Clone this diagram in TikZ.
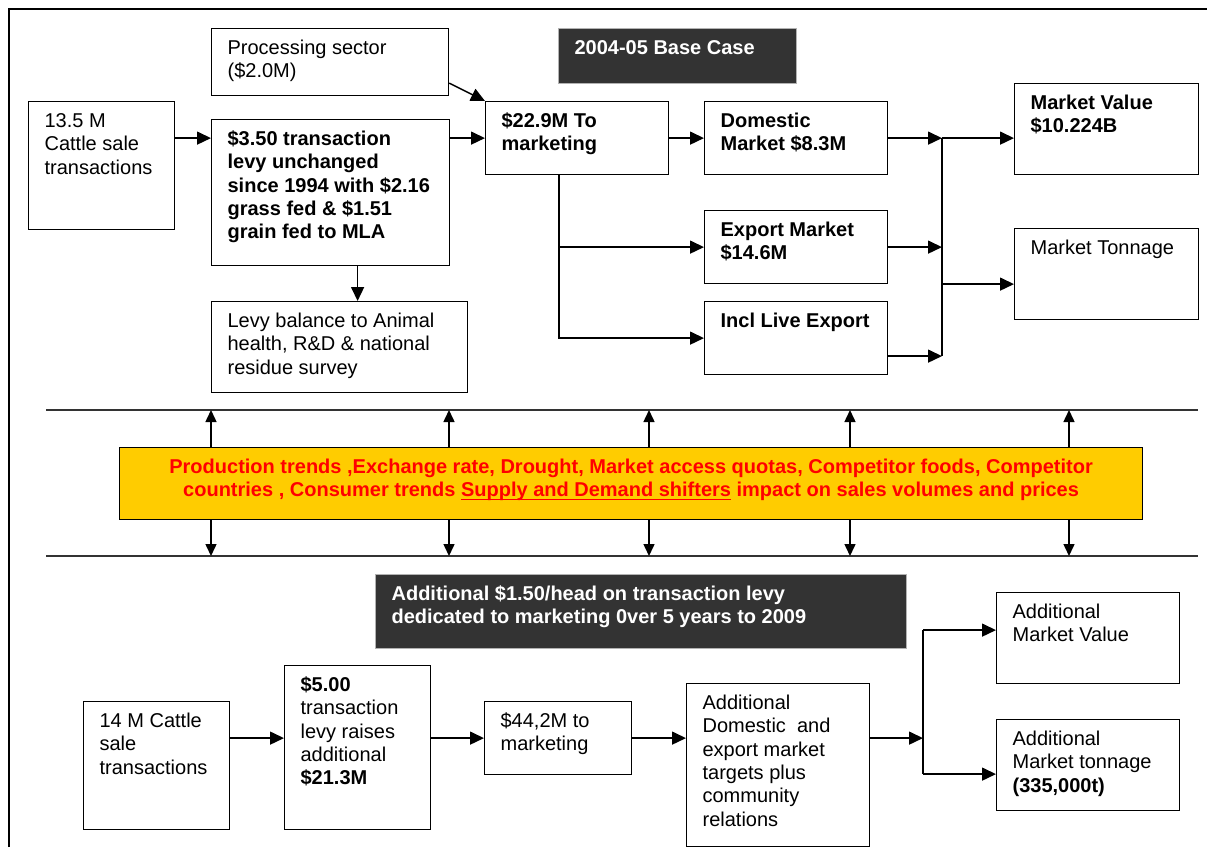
\documentclass[tikz,border=0pt]{standalone}
\usepackage{fontspec}
\setmainfont{Liberation Sans}
\usetikzlibrary{arrows.meta}
\definecolor{darkbg}{HTML}{333333}
\definecolor{band}{HTML}{FFCC00}
\definecolor{alert}{HTML}{FF0000}
\newcommand{\cell}[4][\raggedright]{\parbox[c][#3pt][t]{\dimexpr#2pt-32pt\relax}{\fontsize{20}{23.3}\selectfont#1\rule{0pt}{26pt}#4}}
\newcommand{\redline}[1]{\leavevmode\setbox0\hbox{#1}\rlap{\rule[-3.5pt]{\wd0}{1.6pt}}\box0\relax}

\begin{document}
\begin{tikzpicture}[x=1pt,y=-1pt,
  box/.style={draw,line width=1.2pt,anchor=north west,inner xsep=16pt,inner ysep=0pt},
  dark/.style={box,fill=darkbg,draw=gray!60,text=white,font=\bfseries},
  flow/.style={line width=1.5pt,-{Triangle[length=14pt,width=13pt]}},
  updown/.style={line width=1.5pt,-{Triangle[length=12pt,width=11pt]}}]
\useasboundingbox (0,0) rectangle (1207,847);
\draw[line width=1.6pt] (9,847) -- (9,9) -- (1207,9);

% 2004-05 base case
\node[box] (proc) at (211,28) {\cell{237}{67}{Processing sector\\(\$2.0M)}};
\node[dark] (base) at (558,28) {\cell{238}{55}{2004-05 Base Case}};
\node[box] (cattle) at (28,101) {\cell{146}{128}{13.5 M\\Cattle sale\\transactions}};
\node[box,font=\bfseries] (levy) at (211,119) {\cell{238}{146}{\$3.50 transaction\\levy unchanged\\since 1994 with \$2.16\\grass fed \& \$1.51\\grain fed to MLA}};
\node[box] (balance) at (211,301) {\cell{256}{91}{Levy balance to Animal\\health, R\&D \& national\\residue survey}};
\node[box,font=\bfseries] (tomkt) at (485,101) {\cell{183}{73}{\$22.9M To\\marketing}};
\node[box,font=\bfseries] (dom) at (704,101) {\cell{183}{73}{Domestic\\Market \$8.3M}};
\node[box,font=\bfseries] (exp) at (704,210) {\cell{183}{73}{Export Market\\\$14.6M}};
\node[box,font=\bfseries] (live) at (704,301) {\cell{183}{73}{Incl Live Export}};
\node[box,font=\bfseries] (value) at (1014,83) {\cell{184}{91}{Market Value\\\$10.224B}};
\node[box] (tonnage) at (1014,228) {\cell{184}{91}{Market Tonnage}};

\coordinate (jn) at (942,0);
\draw[flow] (cattle.east |- tomkt.west) -- (levy.west |- tomkt.west);
\draw[flow] (levy.east |- tomkt.west) -- (tomkt.west);
\draw[flow] (proc.-10) -- (tomkt.north west);
\coordinate (ldown) at ([xshift=27pt]levy.south);
\draw[flow] (ldown) -- (ldown |- balance.north);
\draw[flow] (tomkt.east) -- (dom.west);
\coordinate (split) at ([xshift=-18pt]tomkt.south);
\draw[flow] (split) |- (exp.west);
\draw[flow] (split) |- (live.west);
\draw[flow] (dom.east) -- (dom.east -| jn);
\draw[flow] (exp.east) -- (exp.east -| jn);
\coordinate (lout) at ([yshift=-18pt]live.east);
\draw[flow] (lout) -- (lout -| jn);
\draw[line width=1.5pt] (dom.east -| jn) -- (lout -| jn);
\draw[flow] (dom.east -| jn) -- (dom.east -| value.west);
\coordinate (tin) at ([yshift=-10pt]tonnage.west);
\draw[flow] (tin -| jn) -- (tin);

% shifters
\draw[line width=1.2pt,black!80] (46,410) -- (1198,410);
\draw[line width=1.2pt,black!80] (46,556) -- (1198,556);
\node[box,fill=band,text=alert,font=\bfseries] (factors) at (119,447) {\cell[\centering]{1023}{72}{Production trends ,Exchange rate, Drought, Market access quotas, Competitor foods, Competitor\\countries , Consumer trends \redline{Supply and Demand shifters} impact on sales volumes and prices}};
\foreach \x in {211,449,649,850,1069} {
  \draw[updown] (factors.north -| \x,0) -- (\x,410);
  \draw[updown] (factors.south -| \x,0) -- (\x,556);
}

% additional levy
\node[dark] (extra) at (375,574) {\cell{531}{74}{Additional \$1.50/head on transaction levy\\dedicated to marketing 0ver 5 years to 2009}};
\node[box] (cattleb) at (83,701) {\cell{146}{128}{14 M Cattle\\sale\\transactions}};
\node[box] (levyb) at (284,665) {\cell{146}{164}{\textbf{\$5.00}\\transaction\\levy raises\\additional\\\textbf{\$21.3M}}};
\node[box] (tomktb) at (484,701) {\cell{147}{73}{\$44,2M to\\marketing}};
\node[box] (targets) at (686,683) {\cell{183}{163}{Additional\\Domestic~ and\\export market\\targets plus\\community\\relations}};
\node[box] (valueb) at (996,592) {\cell{183}{91}{Additional\\Market Value}};
\node[box] (tonnageb) at (996,719) {\cell{183}{91}{Additional\\Market tonnage\\\textbf{(335,000t)}}};

\coordinate (jnb) at (923,0);
\draw[flow] (cattleb.east |- tomktb.west) -- (levyb.west |- tomktb.west);
\draw[flow] (levyb.east |- tomktb.west) -- (tomktb.west);
\draw[flow] (tomktb.east) -- (targets.west |- tomktb.east);
\draw[flow] (targets.east |- tomktb.east) -- (tomktb.east -| jnb);
\coordinate (vin) at ([yshift=8pt]valueb.west);
\coordinate (tinb) at ([yshift=-9pt]tonnageb.west);
\draw[line width=1.5pt] (vin -| jnb) -- (tinb -| jnb);
\draw[flow] (vin -| jnb) -- (vin);
\draw[flow] (tinb -| jnb) -- (tinb);
\end{tikzpicture}
\end{document}
